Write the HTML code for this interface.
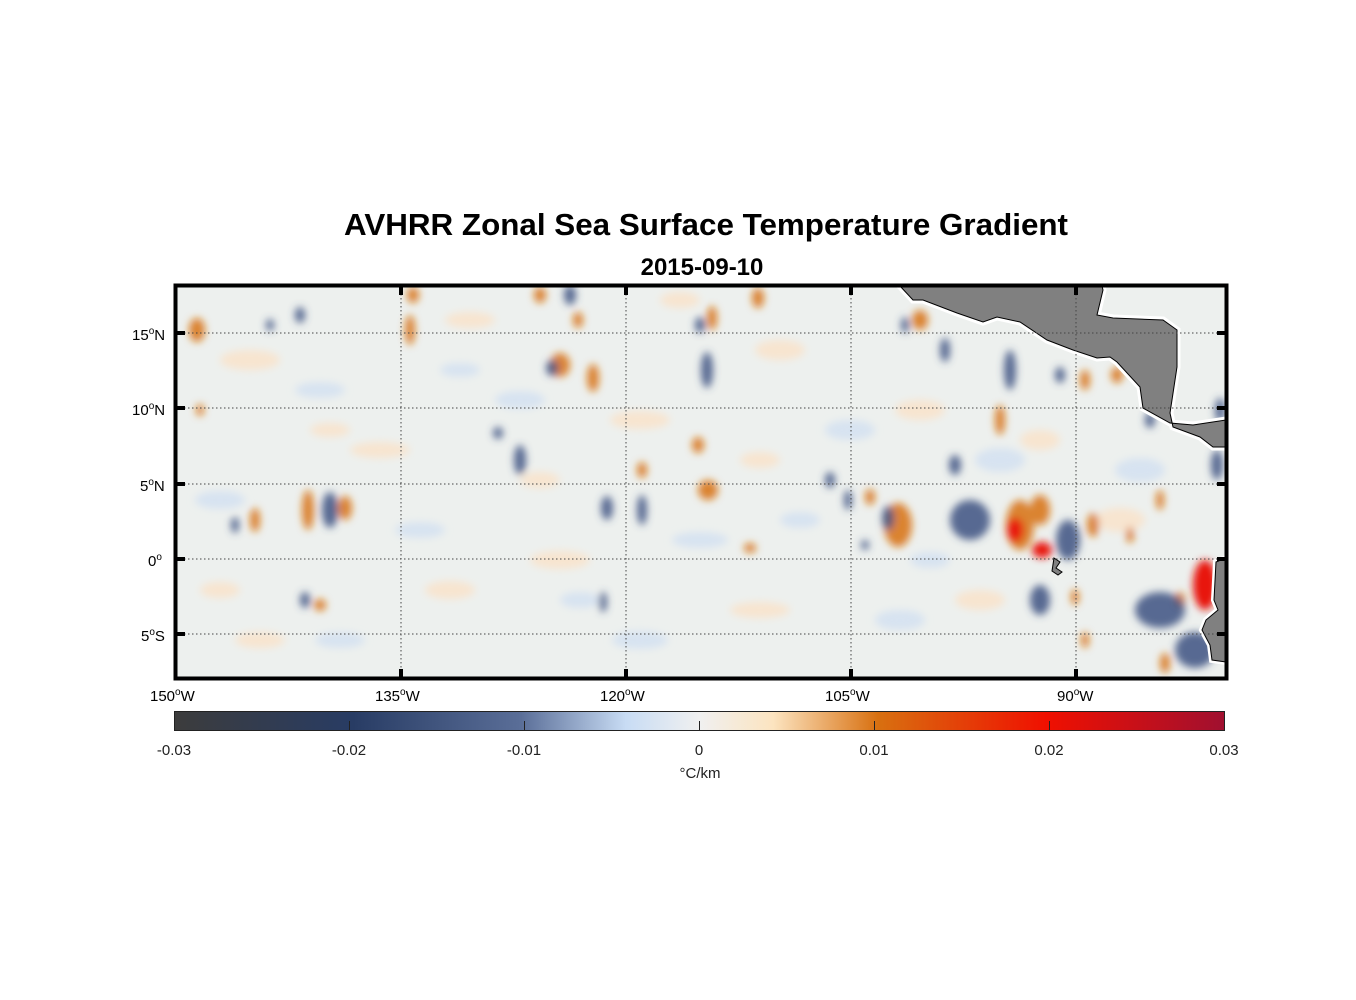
<!DOCTYPE html>
<html><head><meta charset="utf-8"><style>
html,body{margin:0;padding:0;background:#fff;}
svg{display:block;font-family:"Liberation Sans",Arial,sans-serif;}
</style></head><body>
<svg width="1356" height="1000" viewBox="0 0 1356 1000" xmlns="http://www.w3.org/2000/svg">
<defs>
<filter id="bl" x="-5%" y="-5%" width="110%" height="110%"><feGaussianBlur stdDeviation="4"/></filter>
<clipPath id="mc"><rect x="176" y="286" width="1050" height="392"/></clipPath>
<linearGradient id="cb" x1="0" x2="1" y1="0" y2="0">
<stop offset="0" stop-color="#3c3c3c"/>
<stop offset="0.17" stop-color="#283c64"/>
<stop offset="0.33" stop-color="#5a6e98"/>
<stop offset="0.43" stop-color="#c8dcf4"/>
<stop offset="0.5" stop-color="#f0f0f0"/>
<stop offset="0.57" stop-color="#fce4c0"/>
<stop offset="0.67" stop-color="#d87010"/>
<stop offset="0.83" stop-color="#f01000"/>
<stop offset="1" stop-color="#a01030"/>
</linearGradient>
</defs>
<text x="706" y="235" text-anchor="middle" font-size="31" font-weight="bold" textLength="724" lengthAdjust="spacingAndGlyphs">AVHRR Zonal Sea Surface Temperature Gradient</text>
<text x="702" y="275" text-anchor="middle" font-size="24" font-weight="bold">2015-09-10</text>
<g clip-path="url(#mc)">
<rect x="176" y="286" width="1050" height="392" fill="#edf0ee"/>
<g filter="url(#bl)">
<g fill="#fbe3c8" opacity="0.8">
<ellipse cx="250" cy="360" rx="30" ry="10"/><ellipse cx="470" cy="320" rx="25" ry="8"/><ellipse cx="640" cy="420" rx="30" ry="9"/><ellipse cx="780" cy="350" rx="25" ry="10"/><ellipse cx="380" cy="450" rx="30" ry="8"/><ellipse cx="920" cy="410" rx="25" ry="10"/><ellipse cx="560" cy="560" rx="30" ry="9"/><ellipse cx="760" cy="610" rx="30" ry="8"/><ellipse cx="1120" cy="520" rx="25" ry="12"/><ellipse cx="260" cy="640" rx="25" ry="8"/><ellipse cx="450" cy="590" rx="25" ry="9"/><ellipse cx="980" cy="600" rx="25" ry="10"/>
<ellipse cx="330" cy="430" rx="20" ry="7"/><ellipse cx="540" cy="480" rx="20" ry="8"/><ellipse cx="760" cy="460" rx="20" ry="8"/><ellipse cx="1040" cy="440" rx="20" ry="10"/><ellipse cx="680" cy="300" rx="20" ry="8"/><ellipse cx="220" cy="590" rx="20" ry="8"/>
</g>
<g fill="#d2e0f2" opacity="0.8">
<ellipse cx="320" cy="390" rx="25" ry="8"/><ellipse cx="520" cy="400" rx="25" ry="9"/><ellipse cx="700" cy="540" rx="28" ry="8"/><ellipse cx="850" cy="430" rx="25" ry="10"/><ellipse cx="220" cy="500" rx="25" ry="9"/><ellipse cx="420" cy="530" rx="25" ry="8"/><ellipse cx="640" cy="640" rx="28" ry="9"/><ellipse cx="900" cy="620" rx="25" ry="10"/><ellipse cx="1000" cy="460" rx="25" ry="12"/><ellipse cx="1140" cy="470" rx="25" ry="12"/><ellipse cx="340" cy="640" rx="25" ry="8"/>
<ellipse cx="460" cy="370" rx="20" ry="7"/><ellipse cx="800" cy="520" rx="20" ry="8"/><ellipse cx="580" cy="600" rx="20" ry="8"/><ellipse cx="930" cy="560" rx="20" ry="8"/>
</g>
<g fill="#d87010" opacity="0.85">
<ellipse cx="410" cy="330" rx="5" ry="15"/><ellipse cx="560" cy="365" rx="10" ry="12"/><ellipse cx="593" cy="378" rx="6" ry="14"/><ellipse cx="712" cy="318" rx="5" ry="12"/><ellipse cx="698" cy="445" rx="6" ry="8"/><ellipse cx="708" cy="490" rx="10" ry="10"/><ellipse cx="642" cy="470" rx="5" ry="8"/><ellipse cx="750" cy="548" rx="6" ry="5"/><ellipse cx="758" cy="298" rx="6" ry="10"/><ellipse cx="870" cy="497" rx="5" ry="8"/><ellipse cx="898" cy="525" rx="14" ry="22"/><ellipse cx="1040" cy="510" rx="10" ry="15"/><ellipse cx="1093" cy="525" rx="6" ry="12"/><ellipse cx="1075" cy="597" rx="4" ry="8"/><ellipse cx="1180" cy="600" rx="5" ry="8"/><ellipse cx="255" cy="520" rx="5" ry="12"/><ellipse cx="308" cy="510" rx="6" ry="20"/><ellipse cx="345" cy="508" rx="7" ry="12"/><ellipse cx="320" cy="605" rx="6" ry="6"/><ellipse cx="540" cy="295" rx="6" ry="8"/><ellipse cx="578" cy="320" rx="5" ry="8"/><ellipse cx="197" cy="330" rx="8" ry="12"/><ellipse cx="920" cy="320" rx="8" ry="10"/><ellipse cx="1000" cy="420" rx="5" ry="15"/><ellipse cx="1085" cy="380" rx="5" ry="10"/><ellipse cx="1117" cy="375" rx="6" ry="8"/><ellipse cx="1160" cy="500" rx="4" ry="10"/><ellipse cx="1085" cy="640" rx="4" ry="8"/><ellipse cx="1165" cy="663" rx="5" ry="10"/><ellipse cx="200" cy="410" rx="4" ry="6"/><ellipse cx="413" cy="295" rx="6" ry="8"/><ellipse cx="1130" cy="535" rx="4" ry="8"/>
<ellipse cx="1020" cy="525" rx="14" ry="25"/>
</g>
<g fill="#e81808">
<ellipse cx="1015" cy="530" rx="8" ry="12"/><ellipse cx="1042" cy="550" rx="10" ry="8"/><ellipse cx="1205" cy="585" rx="12" ry="25"/>
</g>
<g fill="#3c5282" opacity="0.85">
<ellipse cx="330" cy="510" rx="8" ry="18"/><ellipse cx="305" cy="600" rx="5" ry="8"/><ellipse cx="235" cy="525" rx="4" ry="8"/><ellipse cx="300" cy="315" rx="5" ry="8"/><ellipse cx="570" cy="295" rx="6" ry="10"/><ellipse cx="552" cy="368" rx="6" ry="8"/><ellipse cx="520" cy="460" rx="6" ry="15"/><ellipse cx="498" cy="433" rx="5" ry="6"/><ellipse cx="607" cy="508" rx="6" ry="12"/><ellipse cx="642" cy="510" rx="5" ry="15"/><ellipse cx="603" cy="602" rx="4" ry="10"/><ellipse cx="707" cy="370" rx="6" ry="18"/><ellipse cx="700" cy="325" rx="5" ry="8"/><ellipse cx="830" cy="480" rx="5" ry="8"/><ellipse cx="848" cy="500" rx="4" ry="10"/><ellipse cx="888" cy="518" rx="6" ry="12"/><ellipse cx="945" cy="350" rx="5" ry="12"/><ellipse cx="955" cy="465" rx="6" ry="10"/><ellipse cx="970" cy="520" rx="20" ry="20"/><ellipse cx="1010" cy="370" rx="6" ry="20"/><ellipse cx="1068" cy="540" rx="12" ry="20"/><ellipse cx="1060" cy="375" rx="5" ry="8"/><ellipse cx="1217" cy="465" rx="6" ry="15"/><ellipse cx="1220" cy="410" rx="5" ry="12"/><ellipse cx="1160" cy="610" rx="25" ry="18"/><ellipse cx="1040" cy="600" rx="10" ry="15"/><ellipse cx="1195" cy="650" rx="20" ry="18"/><ellipse cx="1150" cy="420" rx="5" ry="8"/><ellipse cx="905" cy="325" rx="4" ry="8"/><ellipse cx="865" cy="545" rx="4" ry="5"/><ellipse cx="270" cy="325" rx="4" ry="6"/>
</g>
</g>
<g fill="#808080" stroke="#000" stroke-width="1">
<path d="M900,286 L913,300 L923,300 L957,313 L983,322 L997,317 L1020,322 L1047,340 L1073,350 L1097,358 L1110,357 L1117,362 L1140,387 L1143,408 L1170,423 L1193,425 L1226,420 L1226,447 L1213,447 L1200,437 L1173,427 L1170,413 L1177,367 L1177,330 L1163,320 L1113,318 L1097,315 L1103,290 L1102,286 Z" stroke="#fff" stroke-width="7" fill="none"/>
<path d="M900,286 L913,300 L923,300 L957,313 L983,322 L997,317 L1020,322 L1047,340 L1073,350 L1097,358 L1110,357 L1117,362 L1140,387 L1143,408 L1170,423 L1193,425 L1226,420 L1226,447 L1213,447 L1200,437 L1173,427 L1170,413 L1177,367 L1177,330 L1163,320 L1113,318 L1097,315 L1103,290 L1102,286 Z"/>
<path d="M1226,558 L1216,562 L1214,600 L1218,610 L1206,620 L1202,630 L1210,645 L1212,660 L1226,662 Z" stroke="#fff" stroke-width="6" fill="none"/>
<path d="M1226,558 L1216,562 L1214,600 L1218,610 L1206,620 L1202,630 L1210,645 L1212,660 L1226,662 Z"/>
<path d="M1054,558 L1060,562 L1056,568 L1062,572 L1058,575 L1052,571 Z"/>
</g>
<g stroke="#444" stroke-width="1" stroke-dasharray="1.5,2.5" fill="none">
<line x1="176" y1="333" x2="1226" y2="333"/><line x1="176" y1="408" x2="1226" y2="408"/><line x1="176" y1="484" x2="1226" y2="484"/><line x1="176" y1="559" x2="1226" y2="559"/><line x1="176" y1="634" x2="1226" y2="634"/>
<line x1="401" y1="286" x2="401" y2="678"/><line x1="626" y1="286" x2="626" y2="678"/><line x1="851" y1="286" x2="851" y2="678"/><line x1="1076" y1="286" x2="1076" y2="678"/>
</g>
</g>
<rect x="175.5" y="285.5" width="1051" height="393" fill="none" stroke="#000" stroke-width="4"/>
<g stroke="#000" stroke-width="4">
<line x1="401" y1="284" x2="401" y2="295"/><line x1="626" y1="284" x2="626" y2="295"/><line x1="851" y1="284" x2="851" y2="295"/><line x1="1076" y1="284" x2="1076" y2="295"/>
<line x1="401" y1="669" x2="401" y2="680"/><line x1="626" y1="669" x2="626" y2="680"/><line x1="851" y1="669" x2="851" y2="680"/><line x1="1076" y1="669" x2="1076" y2="680"/>
<line x1="174" y1="333" x2="185" y2="333"/><line x1="174" y1="408" x2="185" y2="408"/><line x1="174" y1="484" x2="185" y2="484"/><line x1="174" y1="559" x2="185" y2="559"/><line x1="174" y1="634" x2="185" y2="634"/>
<line x1="1217" y1="333" x2="1228" y2="333"/><line x1="1217" y1="408" x2="1228" y2="408"/><line x1="1217" y1="484" x2="1228" y2="484"/><line x1="1217" y1="559" x2="1228" y2="559"/><line x1="1217" y1="634" x2="1228" y2="634"/>
</g>
<g font-size="15" fill="#000">
<text x="132" y="340">15<tspan dy="-6" font-size="10">o</tspan><tspan dy="6">N</tspan></text>
<text x="132" y="415">10<tspan dy="-6" font-size="10">o</tspan><tspan dy="6">N</tspan></text>
<text x="140" y="491">5<tspan dy="-6" font-size="10">o</tspan><tspan dy="6">N</tspan></text>
<text x="148" y="566">0<tspan dy="-6" font-size="10">o</tspan></text>
<text x="141" y="641">5<tspan dy="-6" font-size="10">o</tspan><tspan dy="6">S</tspan></text>
<text x="150" y="701">150<tspan dy="-6" font-size="10">o</tspan><tspan dy="6">W</tspan></text>
<text x="375" y="701">135<tspan dy="-6" font-size="10">o</tspan><tspan dy="6">W</tspan></text>
<text x="600" y="701">120<tspan dy="-6" font-size="10">o</tspan><tspan dy="6">W</tspan></text>
<text x="825" y="701">105<tspan dy="-6" font-size="10">o</tspan><tspan dy="6">W</tspan></text>
<text x="1057" y="701">90<tspan dy="-6" font-size="10">o</tspan><tspan dy="6">W</tspan></text>
</g>
<rect x="174.5" y="711.5" width="1050" height="19" fill="url(#cb)" stroke="#222" stroke-width="1"/>
<g stroke="#222" stroke-width="1">
<line x1="349.5" y1="721" x2="349.5" y2="730"/><line x1="524.5" y1="721" x2="524.5" y2="730"/><line x1="699.5" y1="721" x2="699.5" y2="730"/><line x1="874.5" y1="721" x2="874.5" y2="730"/><line x1="1049.5" y1="721" x2="1049.5" y2="730"/>
</g>
<g font-size="15" fill="#222" text-anchor="middle">
<text x="174" y="755">-0.03</text><text x="349" y="755">-0.02</text><text x="524" y="755">-0.01</text><text x="699" y="755">0</text><text x="874" y="755">0.01</text><text x="1049" y="755">0.02</text><text x="1224" y="755">0.03</text>
<text x="700" y="778">°C/km</text>
</g>
</svg>
</body></html>
